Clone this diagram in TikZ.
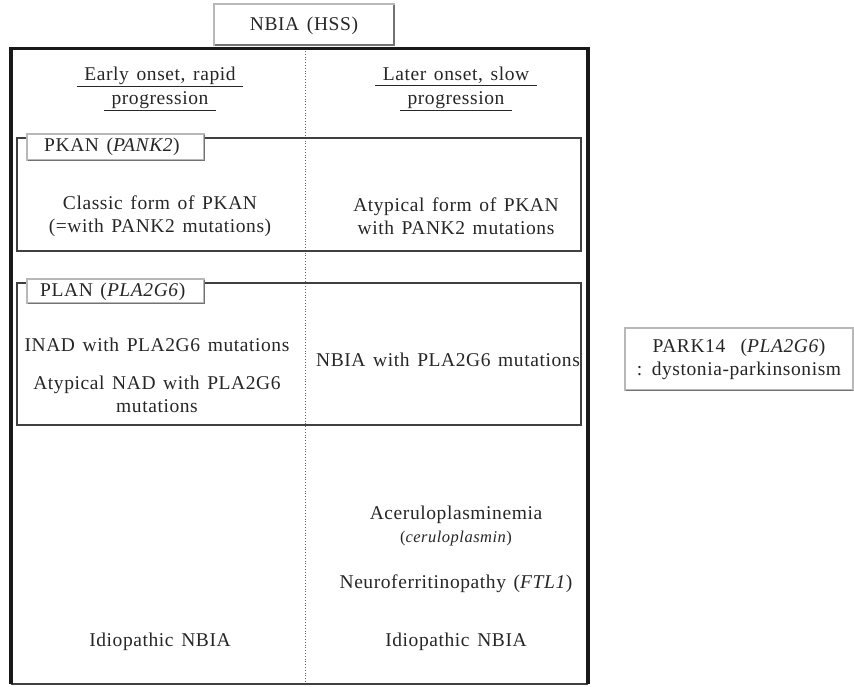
\documentclass[tikz,border=0pt]{standalone}
\usepackage{fontspec}
\setmainfont{Liberation Serif}[LetterSpace=3,WordSpace=1.4]
\begin{document}
\begin{tikzpicture}[x=1pt,y=-1pt,
  txt/.style={font=\fontsize{19.5}{23}\selectfont, align=center, inner sep=0pt, text=black!85},
  tabbox/.style={draw=black!28, line width=2.5pt, fill=white},
  shadowline/.style={draw=black!55, line width=1.5pt},
  groupbox/.style={draw=black!75, line width=1.3pt},
]
\useasboundingbox (0,0) rectangle (854,686);
% main frame
\coordinate (tl) at (11,48.5);
\coordinate (tr) at (588,48.5);
\coordinate (bl) at (11,684);
\coordinate (br) at (588,684);
\draw[black!75, line width=1.6pt] (bl) -- (br);
\draw[black!90, line width=3pt] (9.5,48.5) -- (589.5,48.5);
\draw[black!90, line width=4pt] (11,47) -- (bl);
\draw[black!90, line width=4pt] (588,47) -- (br);
% divider
\coordinate (dtop) at (305,51);
\coordinate (dbot) at (305,682);
\draw[black!60, line width=0.8pt, dotted] (dtop) -- (dbot);
% title tab
\draw[tabbox] (214,4) rectangle (394,45);
\draw[shadowline] (215,45) -- (394,45) -- (394,5);
\node[txt] (title) at (304,26) {NBIA (HSS)};
% column headers
\node[txt] (hl) at (160,89) {\underline{\ Early onset, rapid\ }\\[1pt]\underline{\ progression\ }};
\node[txt] (hr) at (456,89) {\underline{\ Later onset, slow\ }\\[1pt]\underline{\ progression\ }};
% PKAN group
\draw[groupbox] (17,138) rectangle (581,251);
\draw[tabbox] (27,134) rectangle (204,160);
\draw[shadowline] (28,160.5) -- (204.5,160.5) -- (204.5,135);
\node[txt, anchor=west] (pkan) at (44,147) {PKAN (\textit{PANK2})};
\node[txt] (pk1) at (160,216) {Classic form of PKAN\\(=with PANK2 mutations)};
\node[txt] (pk2) at (456,216) {Atypical form of PKAN\\with PANK2 mutations};
% PLAN group
\draw[groupbox] (17,283) rectangle (581,425);
\draw[tabbox] (27,279) rectangle (204,303);
\draw[shadowline] (28,303.5) -- (204.5,303.5) -- (204.5,280);
\node[txt, anchor=west] (plan) at (40,292) {PLAN (\textit{PLA2G6})};
\node[txt] (pl1) at (157,345) {INAD with PLA2G6 mutations};
\node[txt] (pl2) at (157,394) {Atypical NAD with PLA2G6\\mutations};
\node[txt] (pl3) at (448,360) {NBIA with PLA2G6 mutations};
% PARK14
\draw[tabbox] (625,328) rectangle (853,390);
\draw[shadowline] (626,390.5) -- (853,390.5);
\node[txt] (park) at (739,359) {PARK14\ \ (\textit{PLA2G6})\\: dystonia-parkinsonism};
% lower entries
\node[txt] (acer) at (456,526) {Aceruloplasminemia\\{\fontsize{16.5}{20}\selectfont(\textit{ceruloplasmin})}};
\node[txt] (neuro) at (456,584) {Neuroferritinopathy (\textit{FTL1})};
\node[txt] (id1) at (160,642) {Idiopathic NBIA};
\node[txt] (id2) at (456,642) {Idiopathic NBIA};
\end{tikzpicture}
\end{document}
